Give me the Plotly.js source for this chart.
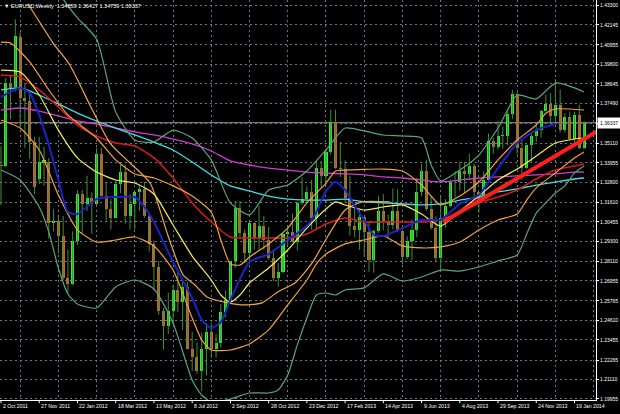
<!DOCTYPE html>
<html><head><meta charset="utf-8">
<script src="https://cdn.plot.ly/plotly-3.0.1.min.js"></script>
<style>html,body{margin:0;padding:0;background:#000;}#chart{width:620px;height:414px;}</style>
</head><body><div id="chart"></div>
<script>
// ---- axis labels ----
const dateLabels = ["2 Oct 2011","27 Nov 2011","22 Jan 2012","18 Mar 2012","13 May 2012","8 Jul 2012","2 Sep 2012","28 Oct 2012","23 Dec 2012","17 Feb 2013","14 Apr 2013","9 Jun 2013","4 Aug 2013","29 Sep 2013","24 Nov 2013","19 Jan 2014"];
const labelWeeks = [0,8,16,24,32,40,48,56,64,72,80,88,96,104,112,120];
const gridWeeks = [4,12,20,28,36,44,52,60,68,76,84,92,100,108,116,124];
const priceTicks = [1.43300,1.42145,1.40955,1.39800,1.38645,1.37490,1.36300,1.35110,1.33955,1.32800,1.31610,1.30455,1.29300,1.28110,1.26955,1.25765,1.24610,1.23455,1.22265,1.21110,1.19955];
const priceTickText = ["1.43300","1.42145","1.40955","1.39800","1.38645","1.37490","","1.35110","1.33955","1.32800","1.31610","1.30455","1.29300","1.28110","1.26955","1.25765","1.24610","1.23455","1.22265","1.21110","1.19955"];

// ---- weekly EURUSD candles (week 0 = 2 Oct 2011) ----
const open = [1.3385,1.3380,1.3870,1.3845,1.4140,1.3780,1.3760,1.3520,1.3300,1.3395,1.3400,1.3040,1.3050,1.2960,1.2715,1.2680,1.2930,1.3210,1.3150,1.3190,1.3150,1.3450,1.3200,1.3120,1.3070,1.3270,1.3340,1.3080,1.3150,1.3220,1.3240,1.3080,1.2915,1.2780,1.2515,1.2430,1.2520,1.2640,1.2570,1.2660,1.2290,1.2245,1.2160,1.2290,1.2390,1.2290,1.2330,1.2510,1.2580,1.2815,1.3130,1.2980,1.2860,1.3040,1.2950,1.3020,1.2940,1.2830,1.2710,1.2750,1.2975,1.2985,1.2925,1.3160,1.3180,1.3220,1.3070,1.3365,1.3315,1.3460,1.3640,1.3365,1.3360,1.3190,1.3020,1.3000,1.3075,1.2985,1.2820,1.2990,1.3110,1.3050,1.3030,1.3110,1.2990,1.2840,1.2930,1.3000,1.3220,1.3345,1.3120,1.3010,1.2830,1.3070,1.3140,1.3280,1.3280,1.3345,1.3330,1.3380,1.3220,1.3180,1.3295,1.3525,1.3490,1.3555,1.3555,1.3685,1.3805,1.3485,1.3365,1.3500,1.3555,1.3590,1.3705,1.3745,1.3675,1.3740,1.3590,1.3665,1.3535,1.3680,1.34859];
const high = [1.3495,1.3900,1.3915,1.4247,1.4170,1.3870,1.3810,1.3550,1.3550,1.3490,1.3425,1.3120,1.3080,1.3080,1.2880,1.2990,1.3235,1.3235,1.3320,1.3220,1.3485,1.3485,1.3285,1.3180,1.3290,1.3385,1.3385,1.3210,1.3220,1.3265,1.3285,1.3090,1.2935,1.2815,1.2535,1.2625,1.2670,1.2745,1.2690,1.2690,1.2395,1.2330,1.2390,1.2445,1.2445,1.2380,1.2560,1.2640,1.2815,1.3170,1.3170,1.3000,1.3045,1.3045,1.3140,1.3080,1.3015,1.2880,1.2800,1.2980,1.3015,1.3095,1.3165,1.3310,1.3255,1.3295,1.3405,1.3405,1.3480,1.3710,1.3710,1.3520,1.3410,1.3320,1.3145,1.3115,1.3075,1.3050,1.3000,1.3200,1.3210,1.3090,1.3245,1.3240,1.3000,1.2960,1.3060,1.3305,1.3390,1.3415,1.3200,1.3080,1.3205,1.3180,1.3295,1.3345,1.3400,1.3400,1.3450,1.3390,1.3220,1.3345,1.3570,1.3545,1.3645,1.3610,1.3705,1.3830,1.3815,1.3530,1.3505,1.3570,1.3620,1.3710,1.3800,1.3810,1.3893,1.3830,1.3690,1.3700,1.3700,1.3740,1.36427];
const low = [1.3145,1.3370,1.3655,1.3820,1.3610,1.3485,1.3420,1.3210,1.3270,1.3260,1.2945,1.2990,1.2858,1.2700,1.2624,1.2670,1.2910,1.2980,1.3110,1.2975,1.3145,1.3195,1.3055,1.3000,1.3070,1.3215,1.3035,1.3000,1.3000,1.3110,1.3070,1.2870,1.2640,1.2495,1.2288,1.2380,1.2440,1.2510,1.2405,1.2290,1.2160,1.2145,1.2042,1.2135,1.2240,1.2240,1.2300,1.2480,1.2560,1.2770,1.2955,1.2800,1.2800,1.2880,1.2880,1.2880,1.2820,1.2695,1.2660,1.2740,1.2910,1.2925,1.2875,1.3145,1.3160,1.3000,1.3000,1.3250,1.3260,1.3445,1.3360,1.3310,1.3160,1.2965,1.2955,1.2880,1.2840,1.2750,1.2745,1.2980,1.2995,1.2950,1.3000,1.2985,1.2795,1.2825,1.2820,1.2955,1.3200,1.3110,1.3000,1.2810,1.2755,1.3010,1.3130,1.3190,1.3230,1.3215,1.3305,1.3175,1.3100,1.3180,1.3290,1.3450,1.3475,1.3480,1.3500,1.3655,1.3445,1.3295,1.3360,1.3400,1.3520,1.3545,1.3700,1.3625,1.3625,1.3575,1.3575,1.3530,1.3510,1.3475,1.34759];
const close = [1.3380,1.3870,1.3840,1.4145,1.3780,1.3760,1.3520,1.3250,1.3400,1.3415,1.3040,1.3050,1.2960,1.2715,1.2680,1.2930,1.3210,1.3150,1.3190,1.3150,1.3450,1.3200,1.3120,1.3070,1.3270,1.3340,1.3080,1.3150,1.3220,1.3240,1.3080,1.2915,1.2780,1.2515,1.2430,1.2520,1.2640,1.2570,1.2660,1.2290,1.2245,1.2160,1.2290,1.2390,1.2290,1.2330,1.2510,1.2580,1.2815,1.3130,1.2980,1.2860,1.3040,1.2950,1.3020,1.2940,1.2830,1.2710,1.2750,1.2975,1.2985,1.2925,1.3160,1.3180,1.3220,1.3070,1.3365,1.3315,1.3460,1.3640,1.3365,1.3360,1.3190,1.3020,1.3000,1.3075,1.2985,1.2820,1.2990,1.3110,1.3050,1.3030,1.3110,1.2990,1.2840,1.2930,1.3000,1.3220,1.3345,1.3120,1.3010,1.2830,1.3070,1.3140,1.3280,1.3280,1.3345,1.3330,1.3380,1.3220,1.3180,1.3295,1.3525,1.3490,1.3555,1.3555,1.3685,1.3805,1.3485,1.3365,1.3500,1.3555,1.3590,1.3705,1.3745,1.3675,1.3740,1.3590,1.3665,1.3535,1.3680,1.3485,1.36337];

// ---- indicator lines (week index, price) ----
const bbUpperWeeks = [12,14,16,20,24,28,32,36,40,44,48,52,56,60,64,68,72,76,80,84,88,90,92,96,100,104,106,108,112,116,120,122];
const bbUpper = [1.4409,1.4326,1.4255,1.4130,1.3697,1.3531,1.3519,1.3590,1.3543,1.3413,1.3158,1.3087,1.3235,1.3264,1.3347,1.3472,1.3602,1.3585,1.3561,1.3555,1.3543,1.3383,1.3288,1.3353,1.3442,1.3602,1.3709,1.3798,1.3775,1.3869,1.3840,1.3816];
const bbLowerWeeks = [0,4,8,10,12,14,16,20,24,28,32,36,40,42,44,48,52,56,58,60,62,64,66,68,70,72,76,80,84,88,92,96,100,104,108,110,112,114,116,118,120,122];
const bbLower = [1.3353,1.3294,1.3134,1.2986,1.2772,1.2618,1.2559,1.2535,1.2660,1.2701,1.2648,1.2446,1.2108,1.2019,1.1977,1.1995,1.2031,1.2031,1.2049,1.2138,1.2316,1.2476,1.2612,1.2624,1.2612,1.2642,1.2654,1.2737,1.2695,1.2719,1.2760,1.2754,1.2778,1.2814,1.2849,1.2974,1.3098,1.3158,1.3217,1.3259,1.3336,1.3377];
const orangeUpWeeks = [0,2,6,10,14,20,24,28,32,36,40,44,46,48,50,52,56,60,64,68,70,72,80,84,88,92,96,100,104,108,112,114,116,122];
const orangeUp = [1.4112,1.4106,1.3994,1.3828,1.3680,1.3543,1.3413,1.3330,1.3306,1.3259,1.3199,1.3104,1.2938,1.2796,1.2790,1.2837,1.2915,1.3009,1.3158,1.3276,1.3347,1.3353,1.3359,1.3347,1.3264,1.3146,1.3199,1.3282,1.3413,1.3531,1.3620,1.3690,1.3715,1.3709];
const orangeMidWeeks = [5.65,8.2,10.9,14.4,18.6,22.8,27.0,31.2,34.9,38.1,40.6,43.1,47.5,51.0,54.6,57.9,61.5,65.1,68.4,72.0,75.5,81.4];
const orangeMid = [1.4338,1.4225,1.4106,1.3976,1.3739,1.3513,1.3395,1.3276,1.2968,1.2731,1.2671,1.2600,1.2565,1.2553,1.2565,1.2630,1.2683,1.2802,1.2962,1.3116,1.3164,1.3164];
const orangeLowWeeks = [0,4,8,12,16,20,24,28,32,36,40,42,44,48,52,56,60,64,66,68,72,76,80,84,88,92,96,100,104,108,110,112,116,120,122];
const orangeLow = [1.3650,1.3602,1.3472,1.3205,1.2998,1.2926,1.2938,1.2956,1.2903,1.2760,1.2476,1.2345,1.2286,1.2286,1.2322,1.2405,1.2553,1.2701,1.2796,1.2855,1.2915,1.2938,1.2962,1.2903,1.2891,1.2897,1.2926,1.2998,1.3057,1.3093,1.3175,1.3247,1.3336,1.3425,1.3460];
const yellowWeeks = [0,4,8,12,16,20,24,28,32,36,40,44,46,48,50,52,56,60,64,68,70,72,76,80,84,88,92,96,100,104,108,112,116,120,122];
const yellow = [1.3946,1.3934,1.3798,1.3590,1.3425,1.3341,1.3294,1.3276,1.3211,1.3027,1.2843,1.2701,1.2612,1.2571,1.2612,1.2683,1.2772,1.2879,1.3009,1.3122,1.3164,1.3146,1.3116,1.3134,1.3146,1.3092,1.3021,1.3110,1.3199,1.3294,1.3359,1.3436,1.3513,1.3537,1.3543];
const blueWeeks = [0,4,6,8,10,12,14,16,20,24,28,30,32,36,40,42,44,46,48,52,56,60,64,66,68,70,72,74,76,78,80,84,88,92,96,100,104,108,112,116];
const blue = [1.3786,1.3840,1.3810,1.3679,1.3501,1.3294,1.3104,1.3092,1.3181,1.3193,1.3193,1.3134,1.3045,1.2808,1.2594,1.2464,1.2416,1.2452,1.2582,1.2808,1.2855,1.2938,1.3021,1.3104,1.3229,1.3282,1.3235,1.3140,1.3057,1.2968,1.2962,1.3009,1.3057,1.3057,1.3152,1.3205,1.3365,1.3513,1.3590,1.3626];
const redWeeks = [0,4,8,12,16,20,24,28,32,36,40,44,48,52,56,60,64,68,72,76,80,84,88,92,96,100,104,108,112,116,120,122];
const red = [1.3917,1.3905,1.3828,1.3727,1.3620,1.3555,1.3513,1.3496,1.3425,1.3306,1.3158,1.3045,1.2956,1.2950,1.2950,1.2950,1.2974,1.3033,1.3069,1.3045,1.3045,1.3045,1.3045,1.3057,1.3104,1.3158,1.3193,1.3235,1.3300,1.3353,1.3377,1.3389];
const slowWeeks = [0,4,8,12,16,20,24,28,32,36,40,44,48,52,56,60,64,68,72,76,80,84,88,92,96,100,104,108,112,116,120,122];
const cyan = [1.3828,1.3840,1.3798,1.3745,1.3691,1.3644,1.3602,1.3561,1.3519,1.3472,1.3401,1.3324,1.3259,1.3229,1.3199,1.3181,1.3175,1.3175,1.3181,1.3164,1.3158,1.3152,1.3146,1.3152,1.3175,1.3193,1.3223,1.3241,1.3264,1.3282,1.3300,1.3306];
const magenta = [1.3709,1.3721,1.3703,1.3674,1.3644,1.3626,1.3602,1.3579,1.3561,1.3537,1.3508,1.3466,1.3407,1.3383,1.3365,1.3353,1.3341,1.3335,1.3330,1.3324,1.3312,1.3306,1.3294,1.3282,1.3294,1.3306,1.3312,1.3318,1.3324,1.3330,1.3341,1.3341];
const trendWeeks = [92.5,124.6];
const trendPrices = [1.3045,1.3580];

const legendText = "EURUSD,Weekly  1.34859 1.36427 1.34759 1.36337";

// ---- build traces ----
const weeks = open.map((_, i) => i);
const wx = [], wy = [];
weeks.forEach(i => { wx.push(i, i, null); wy.push(low[i], high[i], null); });
const bodyBase = open.map((o, i) => Math.min(o, close[i]));
const bodySize = open.map((o, i) => Math.max(Math.abs(close[i] - o), 0.0003));
const bodyColor = open.map((o, i) => close[i] >= o ? '#2ef02e' : '#c4662c');

function line(x, y, color, width) {
  return {type:'scatter', mode:'lines', x:x, y:y, hoverinfo:'skip',
          line:{color:color, width:width, shape:'spline', smoothing:0.6}};
}

const traces = [
  {type:'scatter', mode:'lines', x:wx, y:wy, hoverinfo:'skip', line:{color:'#3f8f3a', width:1}},
  {type:'bar', x:weeks, y:bodySize, base:bodyBase, width:0.64, hoverinfo:'skip',
   marker:{color:bodyColor, line:{width:0}}},
  line(slowWeeks, magenta, '#d23cd2', 1.3),
  line(slowWeeks, cyan, '#45dce6', 1.3),
  line(redWeeks, red, '#d81c1c', 1.5),
  line(bbUpperWeeks, bbUpper, '#5aa57c', 1.2),
  line(bbLowerWeeks, bbLower, '#5aa57c', 1.2),
  line(orangeUpWeeks, orangeUp, '#f2a23c', 1.2),
  line(orangeMidWeeks, orangeMid, '#f0a848', 1.2),
  line(orangeLowWeeks, orangeLow, '#f2a23c', 1.2),
  line(yellowWeeks, yellow, '#f6ee5a', 1.2),
  line(blueWeeks, blue, '#1a24c8', 2),
  {type:'scatter', mode:'lines', x:trendWeeks, y:trendPrices, hoverinfo:'skip', line:{color:'#ff1e1e', width:4}}
];

const fontFam = 'Liberation Sans, Arial, sans-serif';
const annotations = dateLabels.map((t, k) => ({
  text:t, x:labelWeeks[k], xref:'x', y:0, yref:'paper', xanchor:'left', yanchor:'top',
  xshift:0, yshift:-1, showarrow:false, font:{color:'#ffffff', size:5.2, family:fontFam}
}));
annotations.push({text:'▼ ' + legendText, x:0, xref:'paper', y:1, yref:'paper', xanchor:'left', yanchor:'top',
  xshift:2, yshift:-1, showarrow:false, font:{color:'#ffffff', size:5.5, family:fontFam}});
annotations.push({text:close[close.length-1].toFixed(5), x:1, xref:'paper', y:close[close.length-1], yref:'y',
  xanchor:'left', yanchor:'middle', xshift:1, showarrow:false, bgcolor:'#ffffff', borderpad:2,
  font:{color:'#000000', size:5, family:fontFam}});

const shapes = labelWeeks.map(w => ({type:'line', xref:'x', yref:'paper', x0:w, x1:w, y0:0, y1:-0.008,
  line:{color:'#ffffff', width:1}}));
shapes.push({type:'line', xref:'paper', yref:'y', x0:0, x1:1, y0:close[close.length-1], y1:close[close.length-1],
  line:{color:'#9a9a9a', width:1}, layer:'below'});

const layout = {
  width:620, height:414, margin:{l:0, r:24, t:0, b:14},
  paper_bgcolor:'#000000', plot_bgcolor:'#000000', showlegend:false,
  barmode:'overlay', bargap:0,
  xaxis:{range:[-0.21,124.5], tickvals:gridWeeks, showticklabels:false, ticks:'',
    showgrid:true, gridcolor:'#6c7884', griddash:'2px,3px', gridwidth:1,
    zeroline:false, showline:true, linecolor:'#ffffff', linewidth:1, fixedrange:true},
  yaxis:{side:'right', range:[1.19894,1.43614], tickvals:priceTicks, ticktext:priceTickText,
    ticks:'outside', ticklen:2, tickcolor:'#ffffff', tickfont:{color:'#ffffff', size:5, family:fontFam},
    showgrid:true, gridcolor:'#6c7884', griddash:'2px,3px', gridwidth:1,
    zeroline:false, showline:true, linecolor:'#ffffff', linewidth:1, fixedrange:true},
  annotations:annotations, shapes:shapes
};

Plotly.newPlot('chart', traces, layout, {staticPlot:true, displayModeBar:false});
</script>
</body></html>
